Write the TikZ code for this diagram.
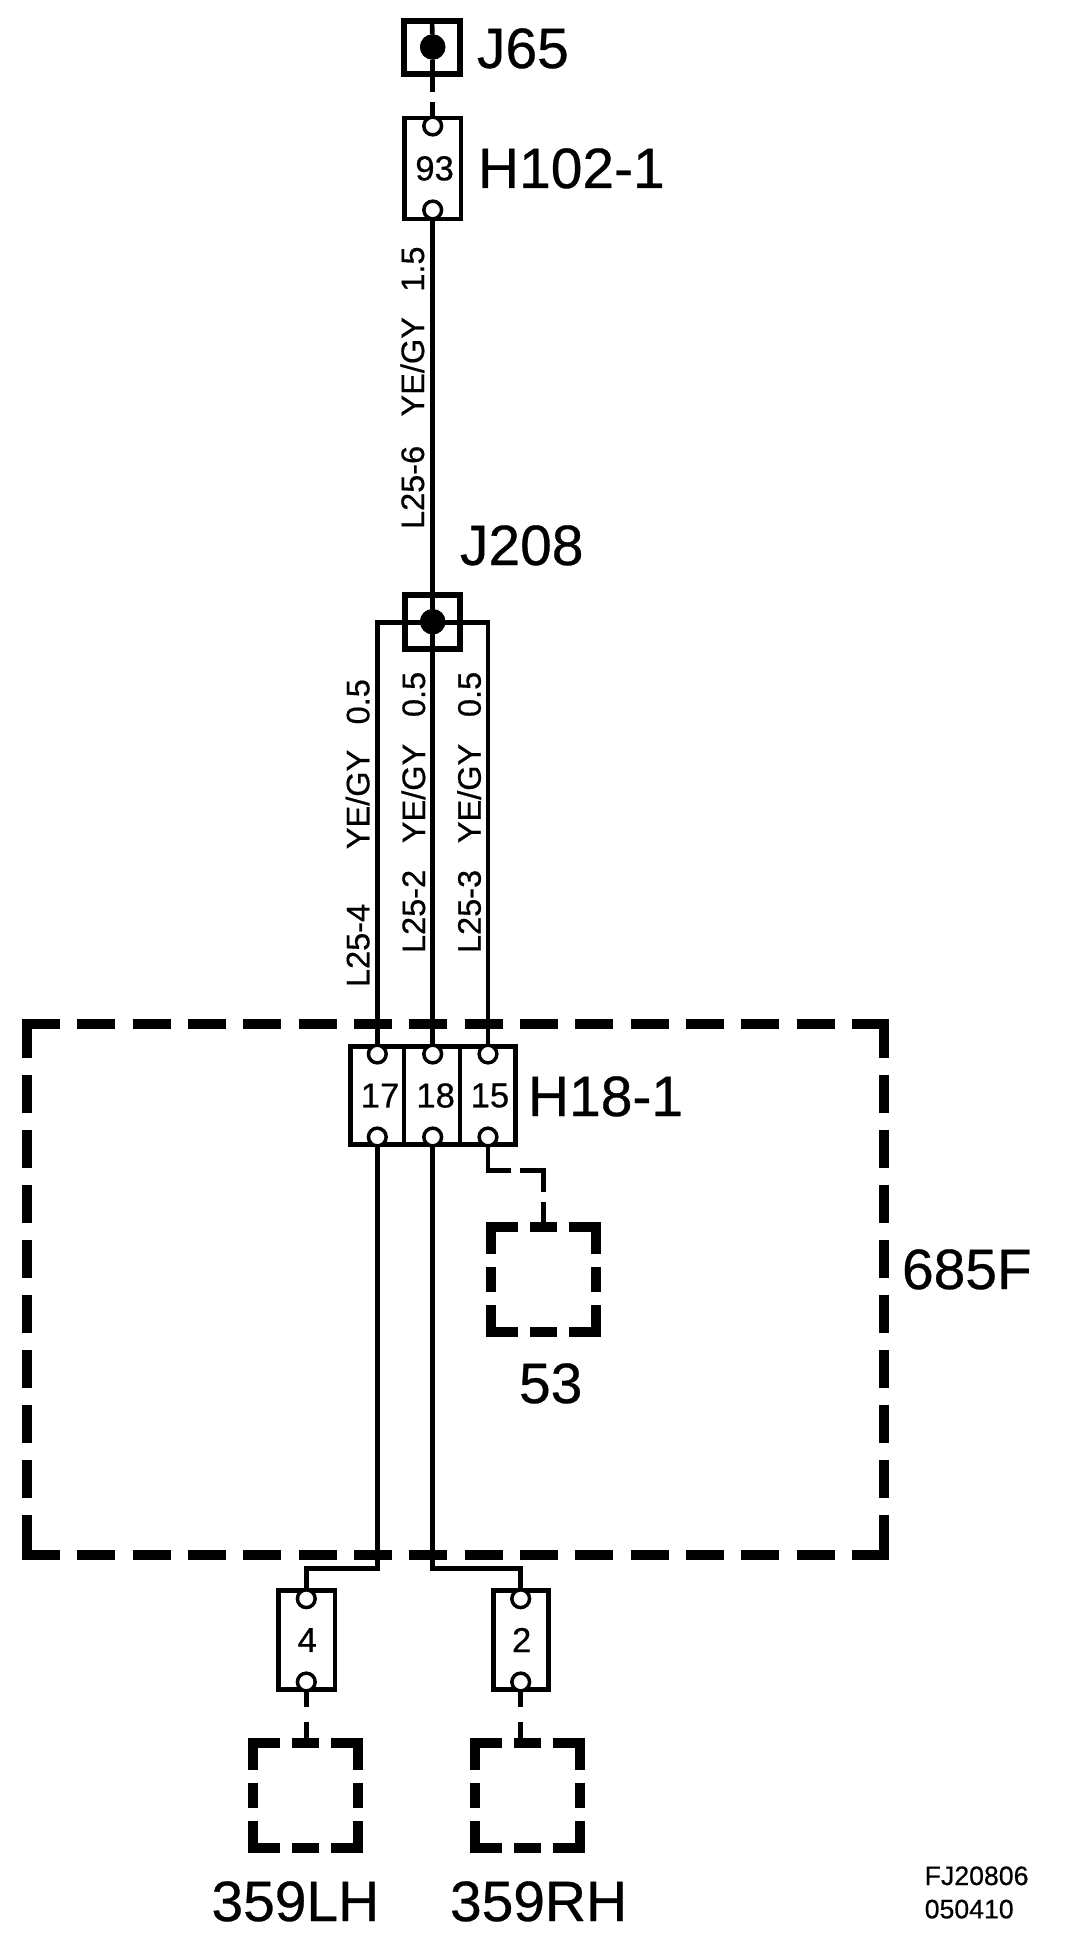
\documentclass[tikz,border=0pt]{standalone}
\usepackage{fontspec}
\setmainfont[RawFeature={embolden=0.5}]{Liberation Sans}
\newcommand{\bigfont}{\fontsize{42.7pt}{42.7pt}\selectfont}
\newcommand{\cellfont}{\fontsize{26pt}{26pt}\selectfont}
\newcommand{\wirefont}{\fontsize{24.4pt}{24.4pt}\selectfont}
\newcommand{\smallfont}{\fontsize{20pt}{20pt}\selectfont}
\tikzset{
  wire/.style={line width=3.5pt,line cap=butt,line join=miter},
  fusebox/.style={draw,line width=3.2pt,minimum width=42pt,minimum height=75pt,inner sep=0pt,outer sep=0pt,font=\cellfont},
  jbox/.style={draw,line width=4.5pt,inner sep=0pt,outer sep=0pt},
  pinring/.style={circle,draw,fill=white,line width=2.6pt,minimum size=13.3pt,inner sep=0pt,outer sep=0pt},
  blob/.style={circle,fill=black,minimum size=19pt,inner sep=0pt,outer sep=0pt},
  biglabel/.style={anchor=base west,inner sep=0pt,outer sep=0pt,font=\bigfont},
  wirelabel/.style={anchor=base west,rotate=90,inner sep=0pt,outer sep=0pt,font=\wirefont},
  smalllabel/.style={anchor=base west,inner sep=0pt,outer sep=0pt,font=\smallfont},
  heavyh/.style={line width=7pt,line cap=butt,dash pattern=on 28.5pt off 13pt},
  heavyv/.style={line width=7.5pt,line cap=butt,dash pattern=on 28.5pt off 12.75pt},
  dashbox/.pic={
    \draw[line width=7.5pt,line join=miter,line cap=butt] (5,32)--(5,5)--(32,5);
    \draw[line width=7.5pt,line join=miter,line cap=butt] (83,5)--(110,5)--(110,32);
    \draw[line width=7.5pt,line join=miter,line cap=butt] (5,83)--(5,110)--(32,110);
    \draw[line width=7.5pt,line join=miter,line cap=butt] (83,110)--(110,110)--(110,83);
    \draw[line width=7.5pt] (44,5)--(71,5);
    \draw[line width=7.5pt] (44,110)--(71,110);
    \draw[line width=7.5pt] (5,45)--(5,70);
    \draw[line width=7.5pt] (110,45)--(110,70);
  }
}
\begin{document}
\begin{tikzpicture}[x=0.75pt,y=-0.75pt]
\useasboundingbox[fill=white] (0,0) rectangle (1072,1944);

% Module outline
\coordinate (oTL) at (22,1024);
\coordinate (oTR) at (889,1024);
\coordinate (oBL) at (22,1555);
\coordinate (oBR) at (889,1555);
\coordinate (oLT) at (27,1019.5);
\coordinate (oLB) at (27,1560);
\coordinate (oRT) at (884,1019.5);
\coordinate (oRB) at (884,1560);
\draw[heavyh] (oTL) -- (oTR);
\draw[heavyh] (oBL) -- (oBR);
\draw[heavyv] (oLT) -- (oLB);
\draw[heavyv] (oRT) -- (oRB);

% Junctions and connector blocks
\node[jbox,minimum width=42pt,minimum height=39.8pt] (j65) at (432,47.5) {};
\node[blob] (j65dot) at (432.7,47) {};
\node[fusebox,minimum width=42.2pt,minimum height=75.5pt] (h102) at (432.6,168.4) {\hspace{3pt}93};
\node[pinring] (h102a) at (432.7,126) {};
\node[pinring] (h102b) at (432.7,210) {};

\node[jbox,minimum width=40.8pt,minimum height=40pt] (j208) at (432.5,622) {};
\node[blob] (j208dot) at (432.7,621.7) {};

\node[fusebox,minimum width=40.4pt,minimum height=73.5pt] (c17) at (377.4,1095.5) {\hspace{4pt}17};
\node[fusebox,minimum width=42pt,minimum height=73.5pt] (c18) at (432.3,1095.5) {\hspace{5pt}18};
\node[fusebox,minimum width=41.4pt,minimum height=73.5pt] (c15) at (487.9,1095.5) {\hspace{3pt}15};
\node[pinring] (p17a) at (377.3,1054) {};
\node[pinring] (p18a) at (432.7,1054) {};
\node[pinring] (p15a) at (488,1054) {};
\node[pinring] (p17b) at (377.3,1137) {};
\node[pinring] (p18b) at (432.7,1137) {};
\node[pinring] (p15b) at (488,1137) {};

\node[fusebox,minimum width=42.2pt,minimum height=74.2pt] (f4) at (306.6,1640) {\hspace{1pt}4};
\node[fusebox,minimum width=41.2pt,minimum height=74.2pt] (f2) at (521,1640) {\hspace{1pt}2};
\node[pinring] (f4a) at (306.3,1598.7) {};
\node[pinring] (f4b) at (306.3,1682) {};
\node[pinring] (f2a) at (520.7,1598.7) {};
\node[pinring] (f2b) at (520.7,1682) {};

% Free wire ends
\coordinate (j65end) at (432.7,92);
\coordinate (h102in) at (432.7,102);
\coordinate (gapA) at (511,1170.7);
\coordinate (gapB) at (520,1170.7);
\coordinate (bend) at (543.3,1170.7);
\coordinate (gapC) at (543.3,1192);
\coordinate (gapD) at (543.3,1201.7);
\coordinate (b53) at (543.3,1222);
\coordinate (b17) at (377.3,1568.3);
\coordinate (b4) at (306.3,1568.3);
\coordinate (b18) at (432.7,1568.3);
\coordinate (b2) at (520.7,1568.3);
\coordinate (f4e) at (306.3,1706.7);
\coordinate (f4s) at (306.3,1721.7);
\coordinate (f4t) at (306.3,1737.5);
\coordinate (f2e) at (520.7,1706.7);
\coordinate (f2s) at (520.7,1721.7);
\coordinate (f2t) at (520.7,1737.5);
\coordinate (brL) at (377.3,622.3);
\coordinate (brR) at (488,622.3);

% Wires
\draw[wire] (j65dot) -- (j65end);
\draw[wire] (h102in) -- (h102a.north);
\draw[wire] (h102b.south) -- (j208dot);
\draw[wire] (j208dot) -- (p18a.north);
\draw[wire] (p17a.north) -- (brL) -- (brR) -- (p15a.north);
\draw[wire] (j65.north) -- (j65dot);
\draw[wire] (p17b.south) -- (b17) -- (b4) -- (f4a.north);
\draw[wire] (p18b.south) -- (b18) -- (b2) -- (f2a.north);
\draw[wire] (p15b.south) |- (gapA);
\draw[wire] (gapB) -- (bend) -- (gapC);
\draw[wire] (gapD) -- (b53);
\draw[wire] (f4b.south) -- (f4e);
\draw[wire] (f4s) -- (f4t);
\draw[wire] (f2b.south) -- (f2e);
\draw[wire] (f2s) -- (f2t);

% Dots above wires
\node[blob] at (j65dot) {};
\node[blob] at (j208dot) {};

% Dashed boxes
\pic at (486,1222) {dashbox};
\pic at (248,1737.5) {dashbox};
\pic at (470,1737.5) {dashbox};

% Labels
\node[biglabel] (lj65) at (477,68) {J65};
\node[biglabel] (lh102) at (478,188) {H102-1};
\node[biglabel] (lj208) at (460,565) {J208};
\node[biglabel] (lh18) at (528,1116) {H18-1};
\node[biglabel] (l685) at (902,1289) {685F};
\node[biglabel] (l53) at (519,1403) {53};
\node[biglabel] (l359l) at (211.5,1921) {359LH};
\node[biglabel] (l359r) at (450,1921) {359RH};

\node[wirelabel] (w6) at (424,529) {L25-6\hspace{22pt}YE/GY\hspace{19pt}1.5};
\node[wirelabel] (w4) at (369.3,987) {L25-4\hspace{41pt}YE/GY\hspace{19pt}0.5};
\node[wirelabel] (w2) at (425,953) {L25-2\hspace{20pt}YE/GY\hspace{20pt}0.5};
\node[wirelabel] (w3) at (480.7,953) {L25-3\hspace{20pt}YE/GY\hspace{20pt}0.5};

\node[smalllabel] (fj1) at (924.7,1885) {FJ20806};
\node[smalllabel] (fj2) at (924.7,1918.3) {050410};
\end{tikzpicture}
\end{document}
